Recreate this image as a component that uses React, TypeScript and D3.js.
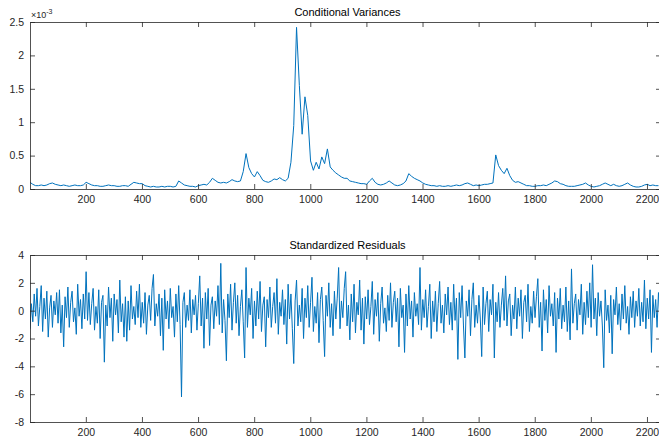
import React, { useEffect, useRef } from "react";
import * as d3 from "d3";

// conditional variance (x 1e-3), one value every 10 observations, starting at 1
const varStep = 10;
const variances = [
  0.10, 0.07, 0.05, 0.05, 0.06, 0.05, 0.06, 0.08, 0.09, 0.07,
  0.06, 0.05, 0.06, 0.05, 0.04, 0.05, 0.06, 0.05, 0.05, 0.06,
  0.10, 0.08, 0.06, 0.05, 0.05, 0.04, 0.04, 0.05, 0.06, 0.05,
  0.05, 0.04, 0.04, 0.05, 0.05, 0.04, 0.07, 0.10, 0.09, 0.08,
  0.08, 0.05, 0.04, 0.03, 0.04, 0.03, 0.03, 0.04, 0.03, 0.04,
  0.04, 0.03, 0.04, 0.12, 0.09, 0.06, 0.05, 0.04, 0.04, 0.03,
  0.05, 0.06, 0.07, 0.06, 0.10, 0.16, 0.13, 0.10, 0.09, 0.10,
  0.09, 0.11, 0.14, 0.12, 0.11, 0.12, 0.26, 0.53, 0.32, 0.23,
  0.18, 0.26, 0.20, 0.13, 0.11, 0.10, 0.12, 0.15, 0.14, 0.17,
  0.14, 0.12, 0.16, 0.40, 0.95, 2.42, 1.55, 0.82, 1.38, 1.10,
  0.42, 0.28, 0.40, 0.30, 0.48, 0.38, 0.60, 0.33, 0.28, 0.24,
  0.21, 0.18, 0.16, 0.16, 0.12, 0.11, 0.10, 0.09, 0.08, 0.08,
  0.07, 0.12, 0.16, 0.10, 0.07, 0.06, 0.07, 0.09, 0.12, 0.09,
  0.06, 0.05, 0.06, 0.08, 0.12, 0.23, 0.19, 0.16, 0.14, 0.12,
  0.09, 0.07, 0.06, 0.05, 0.05, 0.04, 0.05, 0.04, 0.04, 0.05,
  0.04, 0.05, 0.06, 0.05, 0.06, 0.08, 0.09, 0.07, 0.05, 0.06,
  0.05, 0.06, 0.07, 0.07, 0.08, 0.09, 0.51, 0.35, 0.28, 0.23,
  0.31, 0.20, 0.13, 0.10, 0.11, 0.09, 0.07, 0.05, 0.05, 0.04,
  0.04, 0.05, 0.05, 0.06, 0.05, 0.07, 0.09, 0.12, 0.11, 0.08,
  0.07, 0.05, 0.04, 0.04, 0.04, 0.05, 0.06, 0.07, 0.09, 0.06,
  0.04, 0.03, 0.04, 0.05, 0.07, 0.09, 0.07, 0.05, 0.07, 0.05,
  0.04, 0.05, 0.07, 0.09, 0.06, 0.04, 0.03, 0.03, 0.04, 0.06,
  0.07, 0.05, 0.06, 0.05, 0.05,
];

// standardized residuals, one value every 5 observations
const residStep = 5;
const residuals = [
  -1.3, 0.5, -0.8, 1.2, -0.4, 1.6, -1.1, 0.3, 1.8, -1.5, 0.9, -0.6, 1.4, -1.9, 0.2, 1.1, -1.2, 0.7, -0.3, 1.3,
  -0.9, 1.5, -1.6, 0.4, -2.6, 1.0, -0.5, 1.7, -1.2, 0.6, 1.4, -0.8, 0.2, -1.7, 1.9, -0.4, 0.8, -1.3, 1.2, -0.6,
  2.8, -0.7, 1.3, -1.0, 0.5, 1.6, -1.4, 0.3, -0.9, 1.5, -2.0, 0.6, 1.1, -3.7, 0.4, -1.1, 1.7, -0.5, 0.9, -2.2,
  1.2, -0.3, 0.8, -1.6, 2.2, -0.8, 0.5, -1.9, 1.0, -2.2, 0.7, -1.4, 1.8, -0.6, 0.3, -1.0, 1.4, -0.5, 1.9, -1.2,
  0.6, -0.9, 1.3, -1.7, 0.4, 1.1, -0.7, 1.6, 2.6, -1.1, 0.5, -0.4, 1.2, -1.8, 0.9, -2.85, 1.5, -0.6, 0.7, -1.3,
  1.6, -0.5, 0.3, -1.9, 1.2, -0.8, 1.8, -1.0, -6.2, 0.6, 1.3, -1.2, 0.4, -0.7, 1.5, -1.6, 0.8, -0.3, 1.1, -1.4,
  0.5, 2.5, -1.1, 0.9, -2.7, 1.3, -0.6, 1.6, -2.5, 0.4, 1.0, -1.3, 0.7, -0.4, 1.8, -1.0, 3.4, -1.6, 0.8, -0.7,
  -3.6, 1.2, -0.5, 1.9, -1.4, 0.6, 2.0, -0.9, 1.1, -1.8, 0.3, 1.5, -0.8, -3.4, 3.1, -1.2, 0.9, -0.3, 1.6, -2.0,
  0.7, -1.1, 1.4, -0.6, 2.1, -1.5, 0.4, 1.0, -2.6, 0.8, -0.5, 1.7, -1.2, 0.3, 1.3, -0.9, 2.3, -1.7, 0.6, -0.4,
  1.5, -1.0, 0.8, -2.4, 1.9, -0.6, 1.2, -1.3, -3.8, 0.7, 2.2, -1.1, 0.4, -0.8, 1.6, -2.0, 0.9, -0.5, 1.8, -1.2,
  0.6, 2.4, -1.5, 0.3, -0.9, 1.3, -2.3, 0.8, 1.7, -0.7, -3.3, 1.1, -0.4, 2.0, -1.2, 0.5, -1.8, 1.4, -0.6, 0.9,
  3.1, -1.3, 0.7, -0.5, 1.6, 2.8, -1.1, 0.4, -2.1, 1.2, -0.8, 1.9, -1.6, 0.6, -0.3, 2.2, -1.4, 0.9, -2.4, 1.0,
  -0.6, 1.5, -1.0, 0.3, 2.1, -1.7, 0.8, -0.4, 1.3, -2.2, 0.5, 1.7, -0.9, 0.2, -1.5, 1.1, -0.7, 2.0, -1.2, 0.6,
  1.4, -0.8, 0.9, -2.6, 1.6, -0.5, 0.4, -3.0, 1.2, -1.1, 1.8, -0.6, 0.7, -1.9, 1.3, -0.4, 0.5, -1.0, 3.1, -1.4,
  0.8, -0.5, 1.5, -1.2, 0.3, 1.9, -2.0, 0.7, -0.8, 1.4, -1.5, 0.5, 2.1, -0.9, 0.4, -1.6, 1.2, -0.3, 1.7, -1.0,
  0.6, -1.4, 1.9, -0.7, 0.9, -3.5, 1.3, -0.5, 1.8, -1.1, -3.4, 0.7, -0.4, 1.5, -1.8, 0.8, 2.0, -1.2, 0.4, -0.9,
  1.1, -0.6, -3.3, 1.7, -1.0, 0.5, 1.4, -1.5, 0.8, -0.3, 1.9, -3.4, 0.6, -0.8, 1.3, -1.2, 0.4, 1.6, -0.7, 2.5,
  -1.1, 0.7, 1.2, -1.8, 0.4, -0.6, 1.7, -1.3, 0.9, -0.4, 1.5, -2.0, 0.6, 1.1, -0.8, 1.9, -1.5, 0.3, -0.9, 1.4,
  -0.5, 1.0, 2.3, -1.2, 0.6, -2.9, 1.5, -0.7, 0.8, -1.6, 1.8, -0.4, 0.5, -1.1, 1.3, -3.0, 0.9, -0.6, 1.6, -1.3,
  0.4, -0.8, 1.7, -1.5, 0.7, -2.1, 3.0, -0.9, 0.5, 1.2, -1.4, 0.8, -0.3, 1.9, -1.7, 0.6, -1.0, 1.4, -0.5, 2.0,
  -1.2, 3.3, -0.6, 0.9, -1.8, 1.3, -0.4, 0.7, -1.1, -4.1, 1.5, -0.7, 0.4, -1.6, 1.1, -3.1, 0.8, -0.3, 1.7, -1.0,
  0.5, -1.4, 1.2, -0.6, 1.8, -0.9, 0.3, -1.7, 1.0, -0.5, 1.4, -1.2, 0.7, -0.4, 1.6, -1.1, 0.6, -0.8, 2.2, -1.3,
  0.9, -0.6, 1.5, -3.0, 1.1, -0.5, 0.8, -1.2, 1.3, -0.4,
];

const xTicks = [200, 400, 600, 800, 1000, 1200, 1400, 1600, 1800, 2000, 2200];
const varTicks = [0, 0.5, 1, 1.5, 2, 2.5];
const residTicks = [-8, -6, -4, -2, 0, 2, 4];

const W = 659;
const H = 442;
const axisColor = "#262626";
const lineColor = "#0072BD";
const font = "'Liberation Sans', Arial, Helvetica, sans-serif";
const tickLen = 5;

const x = d3.scaleLinear([1, 2250], [30, 661]);

interface PanelProps {
  y: d3.ScaleLinear<number, number>;
  yTicks: number[];
  data: number[];
  step: number;
  title: string;
  titleY: number;
}

const Panel = ({ y, yTicks, data, step, title, titleY }: PanelProps) => {
  const gx = useRef<SVGGElement>(null);
  const gy = useRef<SVGGElement>(null);
  const gt = useRef<SVGGElement>(null);
  const gr = useRef<SVGGElement>(null);
  const [y0, y1] = y.range();
  const [x0, x1] = x.range();
  const clipId = "clip-" + title.replace(/\s/g, "");

  useEffect(() => {
    const style = (g: any) => {
      g.select(".domain").attr("stroke", axisColor).attr("stroke-width", 0.8);
      g.selectAll(".tick line").attr("stroke", axisColor).attr("stroke-width", 0.8);
      g.selectAll(".tick text").attr("fill", axisColor).attr("font-size", 10.5).attr("font-family", font);
    };
    const plain = (d: any) => String(d);
    d3.select(gx.current!)
      .call(d3.axisBottom(x).tickValues(xTicks).tickFormat(plain).tickSize(-tickLen).tickPadding(7).tickSizeOuter(0) as any)
      .call(style);
    d3.select(gt.current!)
      .call(d3.axisTop(x).tickValues(xTicks).tickSize(-tickLen).tickFormat(() => "").tickSizeOuter(0) as any)
      .call(style);
    d3.select(gy.current!)
      .call(d3.axisLeft(y).tickValues(yTicks).tickFormat(plain).tickSize(-tickLen).tickPadding(6).tickSizeOuter(0) as any)
      .call(style);
    d3.select(gr.current!)
      .call(d3.axisRight(y).tickValues(yTicks).tickSize(-tickLen).tickFormat(() => "").tickSizeOuter(0) as any)
      .call(style);
  }, [y, yTicks]);

  const line = d3
    .line<number>()
    .x((_, i) => x(1 + i * step))
    .y((d) => y(d));

  return (
    <g>
      <defs>
        <clipPath id={clipId}>
          <rect x={x0} y={y1} width={x1 - x0} height={y0 - y1} />
        </clipPath>
      </defs>
      <path
        d={line(data) ?? ""}
        fill="none"
        stroke={lineColor}
        strokeWidth={1}
        strokeLinejoin="round"
        clipPath={`url(#${clipId})`}
      />
      <g ref={gx} transform={`translate(0,${y0})`} />
      <g ref={gt} transform={`translate(0,${y1})`} />
      <g ref={gy} transform={`translate(${x0},0)`} />
      <g ref={gr} transform={`translate(${x1},0)`} />
      <text
        x={(x0 + 665) / 2}
        y={titleY}
        textAnchor="middle"
        fontFamily={font}
        fontSize={11}
        fill="#000"
      >
        {title}
      </text>
    </g>
  );
};

export default function App() {
  const yVar = d3.scaleLinear([0, 2.5], [189, 22]);
  const yRes = d3.scaleLinear([-8, 4], [422, 255]);
  return (
    <svg
      width={W}
      height={H}
      style={{ position: "absolute", left: 0, top: 0, background: "white" }}
    >
      <rect width={W} height={H} fill="white" />
      <Panel y={yVar} yTicks={varTicks} data={variances} step={varStep} title="Conditional Variances" titleY={16} />
      <text x={31} y={18} fontFamily={font} fontSize={9} fill={axisColor}>
        ×10
        <tspan dy={-4.5} fontSize={7}>-3</tspan>
      </text>
      <Panel y={yRes} yTicks={residTicks} data={residuals} step={residStep} title="Standardized Residuals" titleY={249} />
    </svg>
  );
}
